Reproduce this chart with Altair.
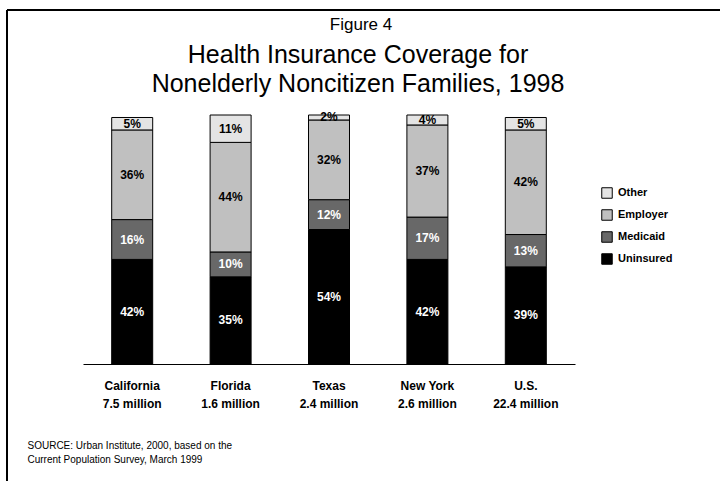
import altair as alt
import pandas as pd

states = ["California", "Florida", "Texas", "New York", "U.S."]
pops = ["7.5 million", "1.6 million", "2.4 million", "2.6 million", "22.4 million"]
uninsured = [42, 35, 54, 42, 39]
medicaid = [16, 10, 12, 17, 13]
employer = [36, 44, 32, 37, 42]
other = [5, 11, 2, 4, 5]

figure_label = "Figure 4"
title_lines = ["Health Insurance Coverage for", "Nonelderly Noncitizen Families, 1998"]
source_lines = ["SOURCE: Urban Institute, 2000, based on the", "Current Population Survey, March 1999"]

types_bottom_up = ["Uninsured", "Medicaid", "Employer", "Other"]
legend_order = ["Other", "Employer", "Medicaid", "Uninsured"]
fills = ["#e4e4e4", "#c0c0c0", "#686868", "#000000"]
text_colors = {"Uninsured": "white", "Medicaid": "white", "Employer": "black", "Other": "black"}

series = {"Uninsured": uninsured, "Medicaid": medicaid, "Employer": employer, "Other": other}
cats = [f"{s}|{p}" for s, p in zip(states, pops)]

rows = []
for i, c in enumerate(cats):
    for k, t in enumerate(types_bottom_up):
        rows.append({"cat": c, "type": t, "value": series[t][i], "ord": k, "tc": text_colors[t]})
df = pd.DataFrame(rows)

FONT = "Liberation Sans"

xaxis = alt.Axis(
    title=source_lines,
    titleX=-56, titleY=76, titleAlign="left", titleAnchor="start", titleBaseline="top",
    titleFont=FONT, titleFontSize=10, titleFontWeight="normal", titleLineHeight=14, titleColor="black",
    labelExpr="split(datum.label, '|')", labelAngle=0, labelFont=FONT, labelFontSize=12,
    labelFontWeight="bold", labelColor="black", labelLineHeight=18, labelPadding=16,
    labelBaseline="top", ticks=False, domainColor="black", domainWidth=1, grid=False,
)
yscale = alt.Scale(domain=[0, 100])

base = alt.Chart(df)

bars = base.mark_bar(size=41, stroke="black", strokeWidth=1).encode(
    x=alt.X("cat:N", sort=cats, axis=xaxis, scale=alt.Scale(paddingInner=0, paddingOuter=0)),
    y=alt.Y("value:Q", stack="zero", scale=yscale, axis=None),
    color=alt.Color(
        "type:N",
        scale=alt.Scale(domain=legend_order, range=fills),
        legend=alt.Legend(
            title=None, orient="none", legendX=518, legendY=72, symbolType="square",
            symbolSize=110, symbolStrokeColor="black", symbolStrokeWidth=1,
            labelFont=FONT, labelFontWeight="bold", labelFontSize=11, labelColor="black",
            rowPadding=6, labelOffset=5, padding=0,
        ),
    ),
    order=alt.Order("ord:Q"),
)

labels = base.transform_stack(
    stack="value", groupby=["cat"], sort=[alt.SortField("ord")], as_=["y0", "y1"]
).transform_calculate(
    mid="(datum.y0 + datum.y1) / 2", lab="datum.value + '%'"
).mark_text(font=FONT, fontWeight="bold", fontSize=12, baseline="middle").encode(
    x=alt.X("cat:N", sort=cats, axis=xaxis),
    y=alt.Y("mid:Q", scale=yscale, axis=None),
    text="lab:N",
    color=alt.Color("tc:N", scale=None),
)

one = pd.DataFrame({"k": [0]})
fig_text = alt.Chart(one).mark_text(
    font=FONT, fontSize=17, color="black", align="center", baseline="alphabetic", text=figure_label
).encode(x=alt.value(278), y=alt.value(-85))
title_text = alt.Chart(one).mark_text(
    font=FONT, fontSize=25, color="black", align="center", baseline="alphabetic",
    lineHeight=29, text=title_lines
).encode(x=alt.value(275), y=alt.value(-52))

top_line = alt.Chart(one).mark_rule(color="black", strokeWidth=2).encode(
    x=alt.value(-76), x2=alt.value(637), y=alt.value(-105)
)
left_line = alt.Chart(one).mark_rule(color="black", strokeWidth=2).encode(
    x=alt.value(-76), y=alt.value(-105), y2=alt.value(366)
)

chart = alt.layer(bars, labels, fig_text, title_text, top_line, left_line).properties(
    width=492,
    height=249,
    autosize=alt.AutoSizeParams(type="none"),
    padding={"left": 83, "top": 115, "right": 145, "bottom": 117},
).configure(background="white").configure_view(strokeWidth=0)

chart.save("out.html", embed_options={"renderer": "svg", "actions": False})
